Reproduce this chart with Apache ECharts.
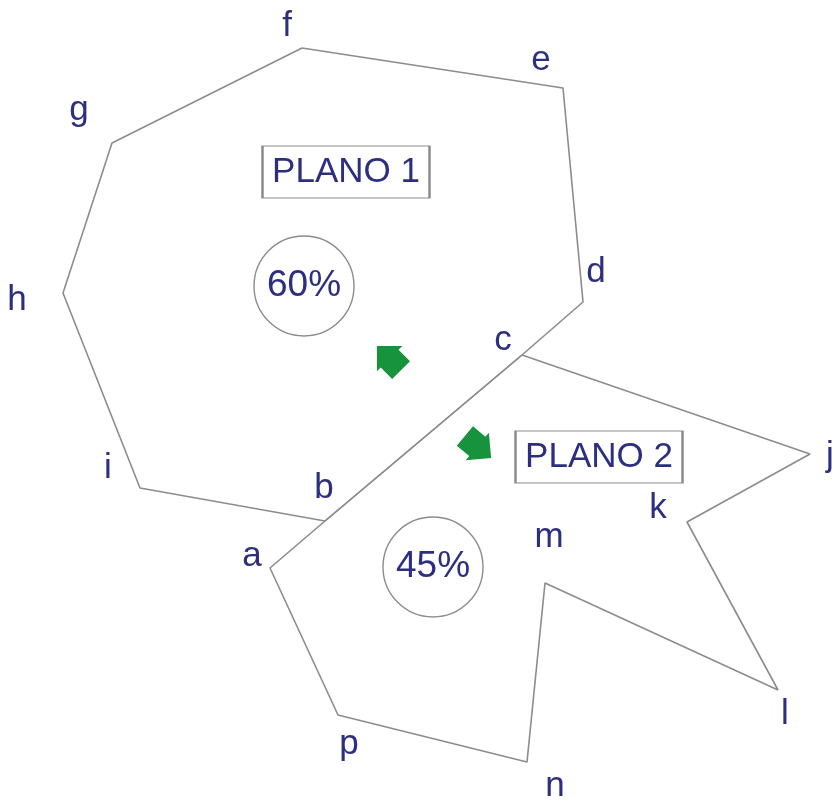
<!DOCTYPE html>
<html>
<head>
<meta charset="utf-8">
<title>Planos</title>
<script src="https://cdn.jsdelivr.net/npm/echarts@6/dist/echarts.min.js"></script>
<style>
  html, body { margin: 0; padding: 0; background: #fff; }
  #main { width: 840px; height: 803px; }
</style>
</head>
<body>
<div id="main"></div>
<script>
// vertices (pixel coordinates of the drawing)
const plano1 = [[302, 48], [563, 88], [583, 302], [522, 355], [325, 521], [140, 488], [63, 293], [112, 143], [302, 48]]
const plano2 = [[522, 355], [810, 454], [687, 522], [778, 690], [545, 583], [527, 762], [338, 715], [270, 568], [325, 521], [522, 355]]
const vertexNames = ['a', 'b', 'c', 'd', 'e', 'f', 'g', 'h', 'i', 'j', 'k', 'l', 'm', 'n', 'p']
const vertexLabelPos = [[252, 556], [324, 488], [503, 340], [596, 272], [541, 60], [287, 26], [79, 110], [17, 300], [108, 468], [830, 456], [658, 508], [785, 714], [549, 537], [555, 786], [349, 744]]
const planoNames = ['PLANO 1', 'PLANO 2']
const planoBoxPos = [[346, 172], [599, 457]]
const slopes = ['60%', '45%']
const slopePos = [[304, 286], [433, 567]]
const arrowPos = [[389, 358], [478, 447]]
const arrowAngle = [135, -40]

const lineColor = '#8c8c8c'
const textColor = '#2c2e80'
const arrowPath = 'path://M0,3 L9,3 L9,0 L19,10 L9,20 L9,17 L0,17 Z'

const myChart = echarts.init(document.getElementById('main'))
myChart.setOption({
  animation: false,
  grid: { left: 0, right: 0, top: 0, bottom: 0 },
  xAxis: { type: 'value', min: 0, max: 840, show: false },
  yAxis: { type: 'value', min: 0, max: 803, inverse: true, show: false },
  series: [
    {
      name: 'plano1',
      type: 'line',
      data: plano1,
      symbol: 'none',
      lineStyle: { color: lineColor, width: 1.6 }
    },
    {
      name: 'plano2',
      type: 'line',
      data: plano2,
      symbol: 'none',
      lineStyle: { color: lineColor, width: 1.6 }
    },
    {
      name: 'pendiente',
      type: 'scatter',
      symbol: 'circle',
      symbolSize: 100,
      data: slopePos.map((p, i) => [p[0], p[1], slopes[i]]),
      itemStyle: { color: 'rgba(0,0,0,0)', borderColor: lineColor, borderWidth: 1.4, opacity: 1 },
      label: {
        show: true,
        position: 'inside',
        formatter: (p) => p.value[2],
        fontFamily: 'Liberation Sans',
        fontSize: 37,
        color: textColor
      }
    },
    {
      name: 'planos',
      type: 'scatter',
      symbol: 'rect',
      symbolSize: [167, 52],
      data: planoBoxPos.map((p, i) => [p[0], p[1], planoNames[i]]),
      itemStyle: { color: 'rgba(0,0,0,0)', borderColor: lineColor, borderWidth: 1.4, opacity: 1 },
      label: {
        show: true,
        position: 'inside',
        formatter: (p) => p.value[2],
        fontFamily: 'Liberation Sans',
        fontSize: 35,
        color: textColor
      }
    },
    {
      name: 'vertices',
      type: 'scatter',
      symbolSize: 1,
      data: vertexLabelPos.map((p, i) => [p[0], p[1], vertexNames[i]]),
      itemStyle: { color: 'rgba(0,0,0,0)', opacity: 1 },
      label: {
        show: true,
        position: 'inside',
        formatter: (p) => p.value[2],
        fontFamily: 'Liberation Sans',
        fontSize: 35,
        color: textColor
      }
    },
    {
      name: 'flechas',
      type: 'scatter',
      symbol: arrowPath,
      symbolSize: 36,
      symbolKeepAspect: true,
      data: arrowPos.map((p, i) => ({ value: p, symbolRotate: arrowAngle[i] })),
      itemStyle: { color: '#17923d', opacity: 1 }
    }
  ]
})
window.addEventListener('resize', function() {
  myChart.resize()
})
</script>
</body>
</html>
